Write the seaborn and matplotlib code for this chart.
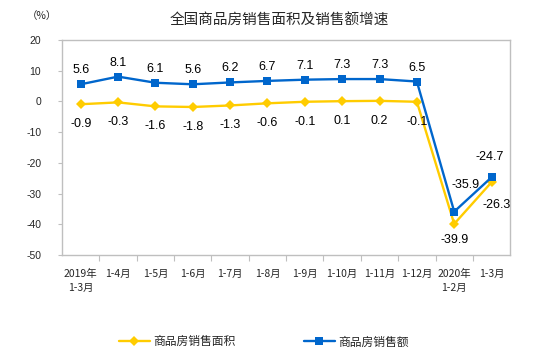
import pandas as pd
import matplotlib
matplotlib.use('Agg')
import matplotlib.pyplot as plt
import seaborn as sns

# --- DATA ---
periods = ['2019年\n1-3月', '1-4月', '1-5月', '1-6月', '1-7月', '1-8月', '1-9月',
           '1-10月', '1-11月', '1-12月', '2020年\n1-2月', '1-3月']
area_growth = [-0.9, -0.3, -1.6, -1.8, -1.3, -0.6, -0.1, 0.1, 0.2, -0.1, -39.9, -26.3]
sales_growth = [5.6, 8.1, 6.1, 5.6, 6.2, 6.7, 7.1, 7.3, 7.3, 6.5, -35.9, -24.7]
series_names = ['商品房销售面积', '商品房销售额']
y_ticks = [20, 10, 0, -10, -20, -30, -40, -50]

YELLOW = '#FFCC00'
BLUE = '#0066CC'

sns.set_theme(style='white')
plt.rcParams['font.family'] = ['Liberation Sans', 'Noto Sans CJK SC', 'DejaVu Sans']
CJK = ['Noto Sans CJK SC', 'DejaVu Sans']

df = pd.DataFrame({
    'x': list(range(len(periods))) * 2,
    'value': area_growth + sales_growth,
    'series': [series_names[0]] * len(periods) + [series_names[1]] * len(periods),
})

fig = plt.figure(figsize=(5.54, 3.58), dpi=100)
ax = fig.add_axes([0.112, 0.288, 0.809, 0.600])

sns.lineplot(data=df, x='x', y='value', hue='series', style='series',
             palette={series_names[0]: YELLOW, series_names[1]: BLUE},
             markers={series_names[0]: 'D', series_names[1]: 's'},
             dashes=False, markersize=5.5, linewidth=1.7, markeredgewidth=0,
             ax=ax)

# value labels (offsets in pixels)
area_off = [(0, -20)] * 10 + [(0, -16), (5, -23)]
sales_off = [(0, 14)] * 10 + [(11, 27), (-2, 20)]
for i, v in enumerate(area_growth):
    ax.annotate(f'{v:.1f}', (i, v), xytext=area_off[i], textcoords='offset pixels',
                ha='center', va='center', fontsize=9, color='black')
for i, v in enumerate(sales_growth):
    ax.annotate(f'{v:.1f}', (i, v), xytext=sales_off[i], textcoords='offset pixels',
                ha='center', va='center', fontsize=9, color='black')

ax.set_xlim(-0.5, len(periods) - 0.5)
ax.set_ylim(-50, 20)
ax.set_yticks(y_ticks)
ax.set_yticklabels([str(t) for t in y_ticks], fontsize=7.5)
ax.set_xticks(range(len(periods)))
ax.set_xticklabels(periods, fontsize=7.5, family=CJK, va='top', linespacing=1.5)
ax.set_xticks([i + 0.5 for i in range(len(periods) - 1)], minor=True)
ax.tick_params(axis='x', which='major', length=0, pad=10)
ax.tick_params(axis='x', which='minor', length=4, width=0.8, color='#BFBFBF', direction='out', bottom=True)
ax.tick_params(axis='y', which='major', length=3, width=0.8, color='#BFBFBF', left=True, pad=12)
for s in ax.spines.values():
    s.set_color('#BFBFBF')
    s.set_linewidth(1.0)
ax.set_xlabel('')
ax.set_ylabel('')

fig.text(0.505, 0.943, '全国商品房销售面积及销售额增速', ha='center', va='center',
         fontsize=10.5, family=CJK, fontweight='medium')
fig.text(0.076, 0.955, '（%）', ha='center', va='center', fontsize=7.5, family=CJK)

handles, labels = ax.get_legend_handles_labels()
ax.legend(handles, labels, loc='center', bbox_to_anchor=(0.45, -0.405),
          ncol=2, frameon=False, columnspacing=5.8, handlelength=2.6,
          handletextpad=0.3, prop={'family': CJK, 'size': 8.5})

fig.savefig('out.png', dpi=100)
